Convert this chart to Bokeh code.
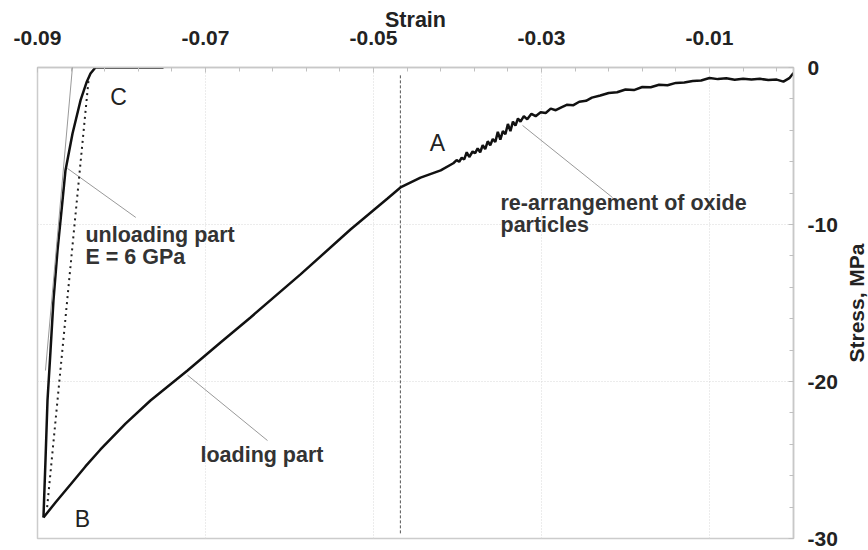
import math
from bokeh.plotting import figure
from bokeh.layouts import row
from bokeh.models import FixedTicker, CustomJSTickFormatter, Arrow
from bokeh.core.properties import value
from bokeh.embed import file_html
from bokeh.resources import INLINE

# ---- data ----
loading_strain = [-0.08929, -0.08786, -0.08607, -0.08429, -0.08250, -0.07952, -0.07655, -0.07214,
                  -0.06821, -0.06464, -0.05869, -0.05274, -0.04833, -0.04679, -0.04440, -0.04200,
                  -0.0405, -0.0401, -0.0398, -0.0395, -0.0392, -0.0389, -0.0386, -0.0382, -0.0379,
                  -0.0376, -0.0373, -0.0370, -0.0367, -0.0364, -0.0361, -0.0358, -0.0355, -0.0352,
                  -0.0349, -0.0346, -0.0343, -0.0340, -0.0337, -0.0334, -0.0331, -0.0328, -0.0325,
                  -0.0321, -0.0317, -0.0312, -0.0307, -0.0301, -0.0295, -0.0289, -0.0283, -0.0277,
                  -0.0270, -0.0262, -0.0255, -0.0247, -0.0240, -0.0230, -0.0220, -0.0210, -0.0200,
                  -0.0190, -0.0180, -0.0170, -0.0160, -0.0150, -0.0140, -0.0130, -0.0120, -0.0110,
                  -0.0100, -0.0090, -0.0080, -0.0070, -0.0060, -0.0050, -0.0040, -0.0030, -0.0020,
                  -0.0012, -0.0005, 0.0]
loading_stress = [-28.66, -27.71, -26.56, -25.41, -24.33, -22.68, -21.21, -19.30,
                  -17.52, -15.92, -13.18, -10.32, -8.34, -7.64, -7.01, -6.55,
                  -6.10, -5.90, -6.00, -5.75, -5.85, -5.40, -5.70, -5.35, -5.45,
                  -5.15, -5.40, -4.95, -5.20, -4.70, -4.95, -4.55, -4.75, -4.10,
                  -4.60, -4.05, -4.25, -3.60, -4.05, -3.45, -3.70, -3.25, -3.45,
                  -3.10, -3.30, -2.95, -3.10, -2.85, -2.90, -2.62, -2.72, -2.55,
                  -2.38, -2.40, -2.18, -2.12, -1.92, -1.78, -1.62, -1.58, -1.40,
                  -1.44, -1.24, -1.26, -1.10, -1.13, -0.98, -0.96, -0.86, -0.83,
                  -0.67, -0.74, -0.69, -0.78, -0.71, -0.77, -0.72, -0.80, -0.77,
                  -0.90, -0.68, -0.35]

unloading_strain = [-0.08929, -0.08905, -0.08881, -0.08845, -0.08810, -0.08762, -0.08702, -0.08667,
                    -0.08583, -0.08488, -0.08417, -0.08369, -0.08310, -0.0750]
unloading_stress = [-28.66, -25.03, -21.21, -18.03, -14.84, -11.66, -8.47, -6.56,
                    -4.20, -2.10, -0.96, -0.38, 0.0, 0.0]

dotted_strain = [-0.08885, -0.08389]
dotted_stress = [-28.0, -0.62]

modulus_strain = [-0.08905, -0.08524]   # E = 6 GPa tangent
modulus_stress = [-19.3, 3.63]

marker_strain = [-0.0468, -0.0468]
marker_stress = [-0.5, -29.7]

leader_x0 = [-0.08643, -0.07214, -0.03226]
leader_y0 = [-6.43, -19.60, -3.69]
leader_x1 = [-0.0783, -0.06262, -0.02155]
leader_y1 = [-9.55, -23.76, -8.28]

letter_text = ["A", "B", "C"]
letter_x = [-0.04238, -0.08464, -0.08036]
letter_y = [-4.84, -28.73, -1.91]

note_text = ["unloading part", "E = 6 GPa", "re-arrangement of oxide", "particles", "loading part"]
note_x = [-0.08429, -0.08429, -0.03488, -0.03488, -0.0706]
note_y = [-10.64, -12.1, -8.66, -10.06, -24.71]

x_major = [-0.09, -0.07, -0.05, -0.03, -0.01]
x_minor = [round(-0.09 + 0.004 * i, 4) for i in range(23)]
y_major = [0, -10, -20, -30]
y_minor = list(range(0, -31, -2))

y_title = "Stress, MPa"

FONT = "Liberation Sans"

p = figure(width=841, height=550, x_range=(-0.09, 0.0), y_range=(-30, 0),
           x_axis_location="above", y_axis_location="right",
           output_backend="svg", toolbar_location=None,
           min_border_left=37, min_border_top=67, min_border_bottom=12, min_border_right=48)

p.outline_line_color = "#cccccc"
p.outline_line_width = 1.5
p.background_fill_color = "white"
p.border_fill_color = "white"

xa = p.xaxis[0]
xa.ticker = FixedTicker(ticks=x_major, minor_ticks=x_minor)
xa.formatter = CustomJSTickFormatter(code="return tick.toFixed(2);")
xa.axis_label = "Strain"
ya = p.yaxis[0]
ya.ticker = FixedTicker(ticks=y_major, minor_ticks=y_minor)
ya.formatter = CustomJSTickFormatter(code="return tick.toFixed(0);")

for ax in (xa, ya):
    ax.axis_line_color = "#c8c8c8"
    ax.axis_line_width = 1.5
    ax.major_tick_in = 5
    ax.major_tick_out = 0
    ax.minor_tick_in = 4
    ax.minor_tick_out = 0
    ax.major_tick_line_color = "#c0c0c0"
    ax.minor_tick_line_color = "#c0c0c0"
    ax.major_label_text_font = FONT
    ax.major_label_text_font_style = "bold"
    ax.major_label_text_font_size = "21px"
    ax.major_label_text_color = "#222222"
    ax.axis_label_text_font = FONT
    ax.axis_label_text_font_style = "bold"
    ax.axis_label_text_font_size = "21.5px"
    ax.axis_label_text_color = "#222222"

xa.major_label_standoff = 23
xa.axis_label_standoff = -4
ya.major_label_standoff = 14

p.xgrid.grid_line_color = "#d8d8d8"
p.xgrid.grid_line_dash = "1 2"
p.ygrid.grid_line_color = "#d8d8d8"
p.ygrid.grid_line_dash = "1 2"

# curves
p.line(marker_strain, marker_stress, line_color="#555555", line_width=1, line_dash="3 2")
p.segment(leader_x0, leader_y0, leader_x1, leader_y1, line_color="#999999", line_width=1)
p.line(dotted_strain, dotted_stress, line_color="#222222", line_width=2, line_dash="2 4")
p.line(loading_strain, loading_stress, line_color="#111111", line_width=2.5)
p.line(unloading_strain, unloading_stress, line_color="#111111", line_width=2.5)

p.add_layout(Arrow(end=None, x_start=modulus_strain[0], y_start=modulus_stress[0],
                   x_end=modulus_strain[1], y_end=modulus_stress[1],
                   line_color="#999999", line_width=1))

p.text(x=letter_x, y=letter_y, text=letter_text, text_font=value(FONT),
       text_font_size="23px", text_align="center", text_baseline="middle", text_color="#222222")
p.text(x=note_x, y=note_y, text=note_text, text_font=value(FONT), text_font_style="bold",
       text_font_size="21.5px", text_align="left", text_baseline="middle", text_color="#333333")

# narrow strip to the right holding the upward-reading y-axis title
t = figure(width=27, height=550, x_range=(0, 1), y_range=(-30, 0),
           output_backend="svg", toolbar_location=None,
           min_border_left=0, min_border_right=0, min_border_top=67, min_border_bottom=12)
t.axis.visible = False
t.grid.visible = False
t.outline_line_color = None
t.background_fill_color = "white"
t.border_fill_color = "white"
t.text(x=[0.56], y=[-15.0], text=[y_title], angle=math.pi / 2,
       text_font=value(FONT), text_font_style="bold", text_font_size="21px",
       text_align="center", text_baseline="middle", text_color="#222222")

layout = row(p, t, spacing=0)
open("out.html", "w").write(file_html(layout, INLINE))
